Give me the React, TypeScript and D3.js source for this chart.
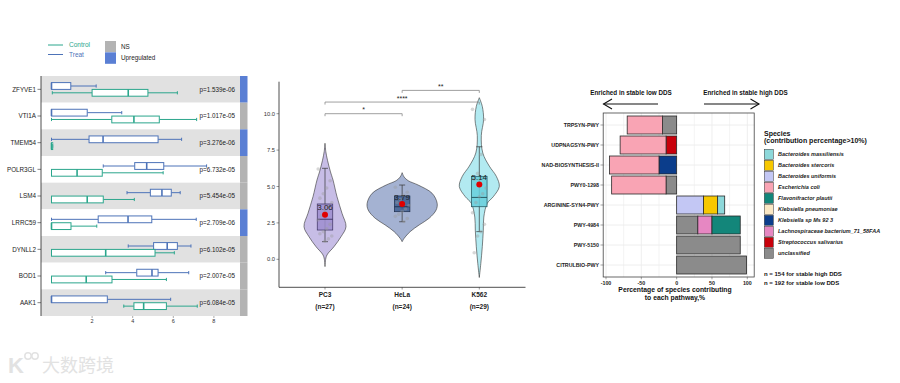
import React from "react";
import * as d3 from "d3";

// ---------- Left panel data ----------
const genes = ["ZFYVE1", "VTI1A", "TMEM54", "POLR3GL", "LSM4", "LRRC59", "DYNLL2", "BOD1", "AAK1"];
const treatStats = [
  [0, 0, 0, 0.95, 2.2],
  [0, 0, 0, 1.76, 3.46],
  [0, 1.85, 2.54, 5.25, 6.41],
  [2.55, 4.1, 4.69, 5.53, 7.64],
  [3.72, 4.87, 5.44, 5.9, 6.34],
  [0, 2.3, 3.77, 4.94, 7.13],
  [3.78, 5.03, 5.7, 6.2, 6.87],
  [2.67, 4.2, 4.95, 5.25, 6.76],
  [0, 0, 0, 2.75, 5.87],
];
const controlStats = [
  [0.04, 2.0, 3.78, 4.75, 6.2],
  [0, 2.97, 4.06, 5.31, 7.15],
  [0, 0, 0, 0.04, 0.06],
  [0, 0, 1.26, 2.5, 5.5],
  [0, 0, 1.76, 2.55, 4.08],
  [0, 0, 0, 0.96, 2.23],
  [0, 0, 2.67, 5.1, 6.05],
  [0, 0, 1.71, 2.98, 5.66],
  [3.56, 4.06, 4.54, 5.66, 7.18],
];
const pValues = ["p=1.539e-06", "p=1.017e-05", "p=3.276e-06", "p=6.732e-05", "p=5.454e-05", "p=2.709e-06", "p=6.102e-05", "p=2.007e-05", "p=6.084e-05"];
const geneStatus = ["Upregulated", "NS", "Upregulated", "NS", "NS", "Upregulated", "NS", "NS", "NS"];
const leftTicks = [2, 4, 6, 8];

// ---------- Middle panel data ----------
const cellLines = ["PC3", "HeLa", "K562"];
const cellN = ["(n=27)", "(n=24)", "(n=29)"];
const cellBox = [
  [1.21, 2.01, 2.75, 3.8, 6.25],
  [2.58, 3.27, 3.61, 4.35, 5.1],
  [1.9, 3.61, 4.25, 5.7, 7.73],
];
const cellMeans = [3.06, 3.79, 5.14];
const violinPC3 = [[-0.5, 0], [-0.1, 0.4], [0.3, 2], [0.87, 9], [1.55, 16], [2.24, 21], [3.16, 17], [4.3, 12], [5.45, 8], [6.0, 5.5], [6.8, 2.5], [7.4, 0.8], [7.97, 0]];
const violinHeLa = [[1.21, 0], [1.44, 2], [1.9, 8], [2.36, 17], [2.82, 27], [3.39, 34], [3.85, 35], [4.53, 30], [5.1, 16], [5.4, 6], [5.65, 2], [5.95, 0]];
const violinK562 = [[-1.25, 0], [-0.3, 1.5], [0.87, 3], [2.0, 4], [2.9, 4.5], [3.85, 8], [4.3, 14], [5.0, 20], [5.7, 17], [6.4, 10], [7.3, 3.5], [8.5, 2], [9.6, 4.3], [10.5, 3], [11.1, 0]];
const violins = [violinPC3, violinHeLa, violinK562];
const pointsPC3 = [6.2, 5.4, 4.9, 4.5, 4.2, 3.9, 3.6, 3.3, 3.0, 2.7, 2.4, 2.1, 1.9, 1.75, 1.6, 1.4, 1.25];
const pointsHeLa = [4.95, 4.6, 4.4, 4.1, 3.9, 3.7, 3.45, 3.3, 3.1, 2.95, 2.8, 2.6];
const pointsK562 = [10.3, 9.6, 7.2, 5.9, 5.5, 4.9, 4.5, 4.3, 3.9, 3.2, 2.4, 1.9, 1.6, 0.45];
const cellPoints = [pointsPC3, pointsHeLa, pointsK562];
const yTicksMid = [0, 2.5, 5, 7.5, 10];
const comparisons = [
  ["PC3", "HeLa", "*", 10.0],
  ["PC3", "K562", "****", 10.8],
  ["HeLa", "K562", "**", 11.6],
];

// ---------- Right panel data ----------
const pathways = ["TRPSYN-PWY", "UDPNAGSYN-PWY", "NAD-BIOSYNTHESIS-II", "PWY0-1298", "ARGININE-SYN4-PWY", "PWY-4984", "PWY-5150", "CITRULBIO-PWY"];
const species = [
  "Bacteroides massiliensis",
  "Bacteroides stercoris",
  "Bacteroides uniformis",
  "Escherichia coli",
  "Flavonifractor plautii",
  "Klebsiella pneumoniae",
  "Klebsiella sp Ms 92 3",
  "Lachnospiraceae bacterium_71_58FAA",
  "Streptococcus salivarius",
  "unclassified",
];
const speciesColors = ["#8dd8da", "#f7c800", "#c3c7f4", "#f9a4b4", "#13867a", "#fbe8c4", "#0b3d8b", "#e687c2", "#c8000b", "#8b8b8b"];
const massiliensis = [0, 0, 0, 0, 10, 0, 0, 0];
const stercoris = [0, 0, 0, 0, 20, 0, 0, 0];
const uniformis = [0, 0, 0, 0, 38, 0, 0, 0];
const ecoli = [-50, -65, -70, -77, 0, 0, 0, 0];
const flavonifractor = [0, 0, 0, 0, 0, 40, 0, 0];
const kPneumoniae = [0, 0, 0, 0, 0, 0, 0, 0];
const kSp = [0, 0, -25, 0, 0, 0, 0, 0];
const lachno = [0, 0, 0, 0, 0, 20, 0, 0];
const strepto = [0, -15, 0, 0, 0, 0, 0, 0];
const unclassified = [-20, 0, 0, -15, 0, 30, 90, 99];
const speciesValues = [massiliensis, stercoris, uniformis, ecoli, flavonifractor, kPneumoniae, kSp, lachno, strepto, unclassified];
const rightTicks = [-100, -50, 0, 50, 100];
const rightMinor = [-75, -25, 25, 75];

const FONT = "Liberation Sans, Arial, Helvetica, sans-serif";
const TREAT = "#4d73b8";
const CONTROL = "#2ba68c";

function HBox({ s, x, cy, color, h }) {
  const [mn, q1, md, q3, mx] = s;
  return (
    <g stroke={color} fill="none">
      <line x1={x(mn)} x2={x(q1)} y1={cy} y2={cy} strokeWidth={1} />
      <line x1={x(q3)} x2={x(mx)} y1={cy} y2={cy} strokeWidth={1} />
      <line x1={x(mn)} x2={x(mn)} y1={cy - 1.6} y2={cy + 1.6} strokeWidth={1} />
      <line x1={x(mx)} x2={x(mx)} y1={cy - 1.6} y2={cy + 1.6} strokeWidth={1} />
      <rect x={x(q1)} y={cy - h / 2} width={Math.max(1.2, x(q3) - x(q1))} height={h} fill="#fff" strokeWidth={1} />
      <line x1={x(md)} x2={x(md)} y1={cy - h / 2} y2={cy + h / 2} strokeWidth={1.6} />
    </g>
  );
}

function LeftPanel() {
  const x = d3.scaleLinear().domain([0, 8]).range([51.5, 51.5 + 8 * 20.3]);
  const y = d3.scaleBand().domain(genes).range([76, 316]);
  const bw = y.bandwidth();
  return (
    <g fontFamily={FONT}>
      <line x1={48} x2={63} y1={45} y2={45} stroke={CONTROL} strokeWidth={1} />
      <text x={69} y={47.3} fontSize={6.5} fill={CONTROL}>Control</text>
      <line x1={48} x2={63} y1={54.5} y2={54.5} stroke={TREAT} strokeWidth={1} />
      <text x={69} y={56.8} fontSize={6.5} fill={TREAT}>Treat</text>
      <rect x={105} y={41} width={11} height={11} fill="#b3b3b3" />
      <rect x={105} y={52.3} width={11} height={11.5} fill="#5a7fd4" />
      <text x={121} y={48.8} fontSize={6.3} fill="#222">NS</text>
      <text x={121} y={60.3} fontSize={6.3} fill="#222">Upregulated</text>
      {genes.map((g, i) => (
        <g key={g}>
          <rect x={41} y={y(g)} width={199} height={bw} fill={i % 2 === 0 ? "#e1e1e1" : "#ffffff"} />
          <rect x={240} y={y(g)} width={7.5} height={bw} fill={geneStatus[i] === "Upregulated" ? "#5a7fd4" : "#b3b3b3"} />
        </g>
      ))}
      {genes.map((g, i) => (
        <g key={g + "b"}>
          <HBox s={treatStats[i]} x={x} cy={y(g) + bw * 0.375} color={TREAT} h={6.8} />
          <HBox s={controlStats[i]} x={x} cy={y(g) + bw * 0.63} color={CONTROL} h={6.8} />
          <text x={235} y={y(g) + bw / 2 + 2.2} fontSize={6.3} textAnchor="end" fill="#222">{pValues[i]}</text>
          <text x={36} y={y(g) + bw / 2 + 2.2} fontSize={6.3} textAnchor="end" fill="#222">{g}</text>
          <line x1={37.5} x2={41} y1={y(g) + bw / 2} y2={y(g) + bw / 2} stroke="#333" strokeWidth={0.6} />
        </g>
      ))}
      <line x1={41} x2={41} y1={76} y2={316} stroke="#222" strokeWidth={0.8} />
      {leftTicks.map((t) => (
        <g key={t}>
          <line x1={x(t)} x2={x(t)} y1={316} y2={318} stroke="#555" strokeWidth={0.5} />
          <text x={x(t)} y={323} fontSize={5.5} textAnchor="middle" fill="#333">{t}</text>
        </g>
      ))}
    </g>
  );
}

function MiddlePanel() {
  const y = d3.scaleLinear().domain([0, 10]).range([259.3, 113.7]);
  const x = d3.scalePoint().domain(cellLines).range([325, 479.3]);
  const vFills = ["#c7bde6", "#a4b2d2", "#b2eaf1"];
  const bFills = ["#9d8ecf", "#3e5d90", "#66cfdc"];
  const bStroke = ["#3b3060", "#1c2d4a", "#1f4f58"];
  const boxW = 15.5;
  return (
    <g fontFamily={FONT}>
      {cellLines.map((c, i) => {
        const cx = x(c);
        const area = d3
          .area()
          .y((d) => y(d[0]))
          .x0((d) => cx - d[1])
          .x1((d) => cx + d[1])
          .curve(d3.curveCatmullRom);
        const [mn, q1, md, q3, mx] = cellBox[i];
        return (
          <g key={c}>
            <path d={area(violins[i])} fill={vFills[i]} stroke="#333" strokeWidth={0.6} />
            <line x1={cx} x2={cx} y1={y(mx)} y2={y(mn)} stroke="#333" strokeWidth={0.7} />
            <line x1={cx - 3} x2={cx + 3} y1={y(mx)} y2={y(mx)} stroke="#333" strokeWidth={0.7} />
            <line x1={cx - 3} x2={cx + 3} y1={y(mn)} y2={y(mn)} stroke="#333" strokeWidth={0.7} />
            <rect x={cx - boxW / 2} y={y(q3)} width={boxW} height={y(q1) - y(q3)} fill={bFills[i]} fillOpacity={0.85} stroke={bStroke[i]} strokeWidth={0.7} />
            <line x1={cx - boxW / 2} x2={cx + boxW / 2} y1={y(md)} y2={y(md)} stroke={bStroke[i]} strokeWidth={0.9} />
            {cellPoints[i].map((p, j) => (
              <circle key={j} cx={cx + (((j * 7) % 9) - 4) * 1.7} cy={y(p)} r={1.8} fill="#9a9a9a" fillOpacity={0.4} />
            ))}
            <circle cx={cx} cy={y(cellMeans[i])} r={3} fill="#e00000" />
            <text x={cx} y={y(cellMeans[i]) - 4.5} fontSize={8} textAnchor="middle" fill="#222">{cellMeans[i].toFixed(2)}</text>
            <text x={cx} y={296.5} fontSize={6.5} fontWeight="bold" textAnchor="middle" fill="#222">{c}</text>
            <text x={cx} y={308.5} fontSize={6.5} fontWeight="bold" textAnchor="middle" fill="#222">{cellN[i]}</text>
            <line x1={cx} x2={cx} y1={287.3} y2={289.5} stroke="#333" strokeWidth={0.5} />
          </g>
        );
      })}
      {comparisons.map(([a, b, lab, v], k) => (
        <g key={k} stroke="#888" strokeWidth={0.8}>
          <path d={`M${x(a)},${y(v) + 2.5}V${y(v)}H${x(b)}V${y(v) + 2.5}`} fill="none" />
          <text x={(x(a) + x(b)) / 2} y={y(v) - 1.5} fontSize={7} textAnchor="middle" fill="#222" stroke="none">{lab}</text>
        </g>
      ))}
      <line x1={279} x2={279} y1={81.7} y2={287.3} stroke="#222" strokeWidth={0.8} />
      <line x1={279} x2={525.5} y1={287.3} y2={287.3} stroke="#222" strokeWidth={0.8} />
      {yTicksMid.map((t) => (
        <g key={t}>
          <line x1={276.5} x2={279} y1={y(t)} y2={y(t)} stroke="#333" strokeWidth={0.5} />
          <text x={275} y={y(t) + 2} fontSize={5.8} textAnchor="end" fill="#333">{t.toFixed(1)}</text>
        </g>
      ))}
    </g>
  );
}

function RightPanel() {
  const x = d3.scaleLinear().domain([-100, 100]).range([606, 747.3]);
  const y = d3.scaleBand().domain(pathways).range([115, 275]).paddingInner(0.1).paddingOuter(0.05);
  const table = pathways.map((p, i) => {
    const row = { pathway: p };
    species.forEach((s, k) => (row[s] = speciesValues[k][i]));
    return row;
  });
  const keys = species.slice().reverse();
  const stacked = d3.stack().keys(keys).offset(d3.stackOffsetDiverging)(table);
  const colorOf = d3.scaleOrdinal().domain(species).range(speciesColors);
  return (
    <g fontFamily={FONT}>
      <rect x={603.2} y={113} width={151} height={164} fill="#fff" />
      {[...rightTicks, ...rightMinor].map((t) => (
        <line key={t} x1={x(t)} x2={x(t)} y1={113} y2={277} stroke="#ececec" strokeWidth={rightTicks.includes(t) ? 0.9 : 0.6} />
      ))}
      {pathways.map((p) => (
        <line key={p} x1={603.2} x2={754.2} y1={y(p) + y.bandwidth() / 2} y2={y(p) + y.bandwidth() / 2} stroke="#ececec" strokeWidth={0.9} />
      ))}
      {stacked.map((layer) => (
        <g key={layer.key} fill={colorOf(layer.key)}>
          {layer.map((d, i) =>
            d[1] - d[0] !== 0 ? (
              <rect key={i} x={x(Math.min(d[0], d[1]))} y={y(pathways[i])} width={Math.abs(x(d[1]) - x(d[0]))} height={y.bandwidth()} stroke="#2a2a2a" strokeWidth={0.8} />
            ) : null
          )}
        </g>
      ))}
      <rect x={603.2} y={113} width={151} height={164} fill="none" stroke="#444" strokeWidth={0.8} />
      {pathways.map((p) => (
        <g key={p + "l"}>
          <text x={599} y={y(p) + y.bandwidth() / 2 + 2} fontSize={5.3} fontWeight="bold" textAnchor="end" fill="#222">{p}</text>
          <line x1={600.5} x2={603.2} y1={y(p) + y.bandwidth() / 2} y2={y(p) + y.bandwidth() / 2} stroke="#444" strokeWidth={0.5} />
        </g>
      ))}
      {rightTicks.map((t) => (
        <g key={t + "t"}>
          <line x1={x(t)} x2={x(t)} y1={277} y2={279.3} stroke="#444" strokeWidth={0.5} />
          <text x={x(t)} y={285} fontSize={5.3} fontWeight="bold" textAnchor="middle" fill="#222">{t}</text>
        </g>
      ))}
      <text x={675} y={292.3} fontSize={6.8} fontWeight="bold" textAnchor="middle" fill="#111">Percentage of species contributing</text>
      <text x={675} y={300.3} fontSize={6.8} fontWeight="bold" textAnchor="middle" fill="#111">to each pathway,%</text>
      <text x={631} y={95} fontSize={6.3} fontWeight="bold" textAnchor="middle" fill="#111">Enriched in stable low DDS</text>
      <text x={745.5} y={95} fontSize={6.3} fontWeight="bold" textAnchor="middle" fill="#111">Enriched in stable high DDS</text>
      <g stroke="#111" strokeWidth={1.1} fill="none">
        <line x1={658} x2={603.5} y1={104} y2={104} />
        <path d="M612,99 L603.5,104 L612,109" />
        <line x1={704} x2={759} y1={104} y2={104} />
        <path d="M750.5,99 L759,104 L750.5,109" />
      </g>
      <text x={764} y={136} fontSize={7} fontWeight="bold" fill="#111">Species</text>
      <text x={764} y={142.5} fontSize={7} fontWeight="bold" fill="#111">(contribution percentage&gt;10%)</text>
      {species.map((s, k) => (
        <g key={s}>
          <rect x={764.3} y={149.3 + k * 11} width={9} height={10} fill={speciesColors[k]} stroke="#333" strokeWidth={0.5} />
          <text x={778} y={156.3 + k * 11} fontSize={5.5} fontStyle="italic" fontWeight="bold" fill="#222">{s}</text>
        </g>
      ))}
      <text x={764} y={275.5} fontSize={6} fontWeight="bold" fill="#111">n = 154 for stable high DDS</text>
      <text x={764} y={284.8} fontSize={6} fontWeight="bold" fill="#111">n = 192 for stable low DDS</text>
    </g>
  );
}

export default function App() {
  return (
    <svg width={900} height={383} style={{ position: "absolute", left: 0, top: 0, background: "#fff" }} xmlns="http://www.w3.org/2000/svg">
      <rect x={0} y={0} width={900} height={383} fill="#fff" />
      <LeftPanel />
      <MiddlePanel />
      <RightPanel />
      <g fill="#e2e2e2" fontFamily="Noto Sans CJK SC, sans-serif">
        <text x={8} y={373} fontSize={22} fontWeight="bold" fontFamily={FONT}>K</text>
        <circle cx={28} cy={356} r={3.2} fill="none" stroke="#e2e2e2" strokeWidth={1.5} />
        <circle cx={35} cy={356} r={3.2} fill="none" stroke="#e2e2e2" strokeWidth={1.5} />
        <text x={42} y={372} fontSize={18}>大数跨境</text>
      </g>
    </svg>
  );
}
